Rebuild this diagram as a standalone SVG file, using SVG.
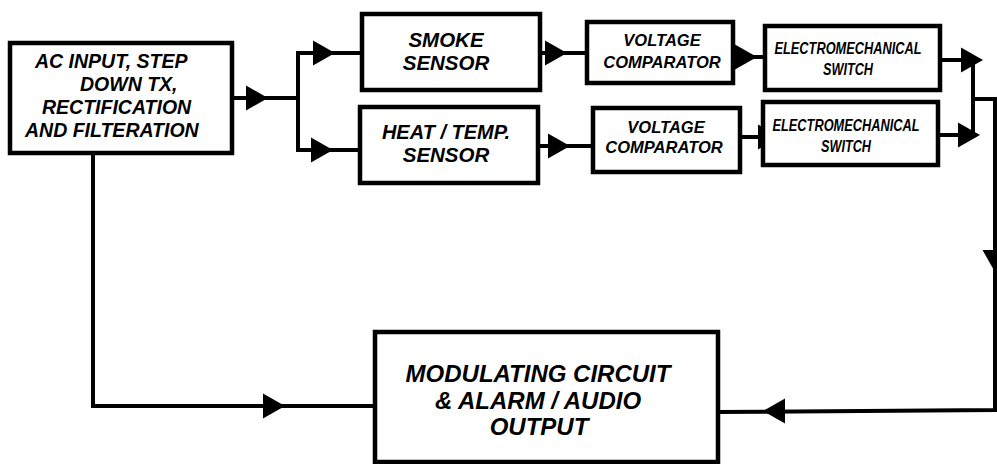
<svg xmlns="http://www.w3.org/2000/svg" xmlns:xlink="http://www.w3.org/1999/xlink" width="997" height="464" viewBox="0 0 997 464">
<style>
.box{fill:#fff;stroke:#000;stroke-width:4.5}
.ln{fill:none;stroke:#000;stroke-width:4;stroke-linecap:square;stroke-linejoin:miter}
.t{font-family:"Liberation Sans",Arial,sans-serif;font-weight:bold;font-style:italic;fill:#000}
.m{text-anchor:middle}
</style>
<defs>
<path id="ah" d="M0,0 L-22,-12.5 L-22,12.5 Z" fill="#000"/>
</defs>
<rect width="997" height="464" fill="#fff"/>
<g id="connectors">
<polyline class="ln" points="232,98 298,98"/>
<polyline class="ln" points="362,53 298,53 298,150 360,150"/>
<polyline class="ln" points="540,53 587,53"/>
<polyline class="ln" points="538,146 593,146"/>
<polyline class="ln" points="733,57 765,57"/>
<polyline class="ln" points="740,137 763,137"/>
<polyline class="ln" points="940,60 973,60 973,135 938,135"/>
<polyline class="ln" points="973,99 995,99 995,410 718,412"/>
<polyline class="ln" points="93,153 93,406 375,406"/>
<use xlink:href="#ah" transform="translate(268,98)"/>
<use xlink:href="#ah" transform="translate(335,53)"/>
<use xlink:href="#ah" transform="translate(333,150)"/>
<use xlink:href="#ah" transform="translate(567,53)"/>
<use xlink:href="#ah" transform="translate(570,146)"/>
<use xlink:href="#ah" transform="translate(757,57)"/>
<use xlink:href="#ah" transform="translate(780,137)"/>
<use xlink:href="#ah" transform="translate(983,60)"/>
<use xlink:href="#ah" transform="translate(980,135)"/>
<use xlink:href="#ah" transform="translate(995,272) rotate(90)"/>
<use xlink:href="#ah" transform="translate(763,411) rotate(180)"/>
<use xlink:href="#ah" transform="translate(285,406)"/>
</g>
<g id="power">
<rect class="box" x="10" y="43" width="222" height="110"/>
<text class="t" font-size="19.5" x="35" y="68">AC INPUT, STEP</text>
<text class="t" font-size="19.5" x="80" y="91">DOWN TX,</text>
<text class="t" font-size="19.5" x="42" y="114">RECTIFICATION</text>
<text class="t" font-size="19.5" x="25" y="137">AND FILTERATION</text>
</g>
<g id="smoke">
<rect class="box" x="362" y="14" width="178" height="76"/>
<text class="t m" font-size="20.5" x="446" y="47">SMOKE</text>
<text class="t m" font-size="20.5" x="446" y="70">SENSOR</text>
</g>
<g id="heat">
<rect class="box" x="360" y="107" width="178" height="76"/>
<text class="t m" font-size="20" x="446" y="139">HEAT / TEMP.</text>
<text class="t m" font-size="20.5" x="446" y="162">SENSOR</text>
</g>
<g id="vc1">
<rect class="box" x="587" y="22" width="146" height="61"/>
<text class="t m" font-size="16.5" x="662" y="46">VOLTAGE</text>
<text class="t m" font-size="16.5" x="662" y="68">COMPARATOR</text>
</g>
<g id="vc2">
<rect class="box" x="593" y="108" width="147" height="64"/>
<text class="t m" font-size="16.5" x="666" y="133">VOLTAGE</text>
<text class="t m" font-size="16.5" x="664" y="153">COMPARATOR</text>
</g>
<g id="ems1">
<rect class="box" x="765" y="26" width="175" height="64"/>
<text class="t m" font-size="17" x="848" y="54" textLength="147" lengthAdjust="spacingAndGlyphs">ELECTROMECHANICAL</text>
<text class="t m" font-size="17" x="848" y="75" textLength="50" lengthAdjust="spacingAndGlyphs">SWITCH</text>
</g>
<g id="ems2">
<rect class="box" x="763" y="102" width="175" height="63"/>
<text class="t m" font-size="17" x="846" y="131" textLength="147" lengthAdjust="spacingAndGlyphs">ELECTROMECHANICAL</text>
<text class="t m" font-size="17" x="846" y="152" textLength="50" lengthAdjust="spacingAndGlyphs">SWITCH</text>
</g>
<g id="output">
<rect class="box" x="375" y="332" width="343" height="130"/>
<text class="t m" font-size="24" x="538" y="382">MODULATING CIRCUIT</text>
<text class="t m" font-size="24" x="538" y="409">&amp; ALARM / AUDIO</text>
<text class="t m" font-size="24" x="539" y="435">OUTPUT</text>
</g>
</svg>
